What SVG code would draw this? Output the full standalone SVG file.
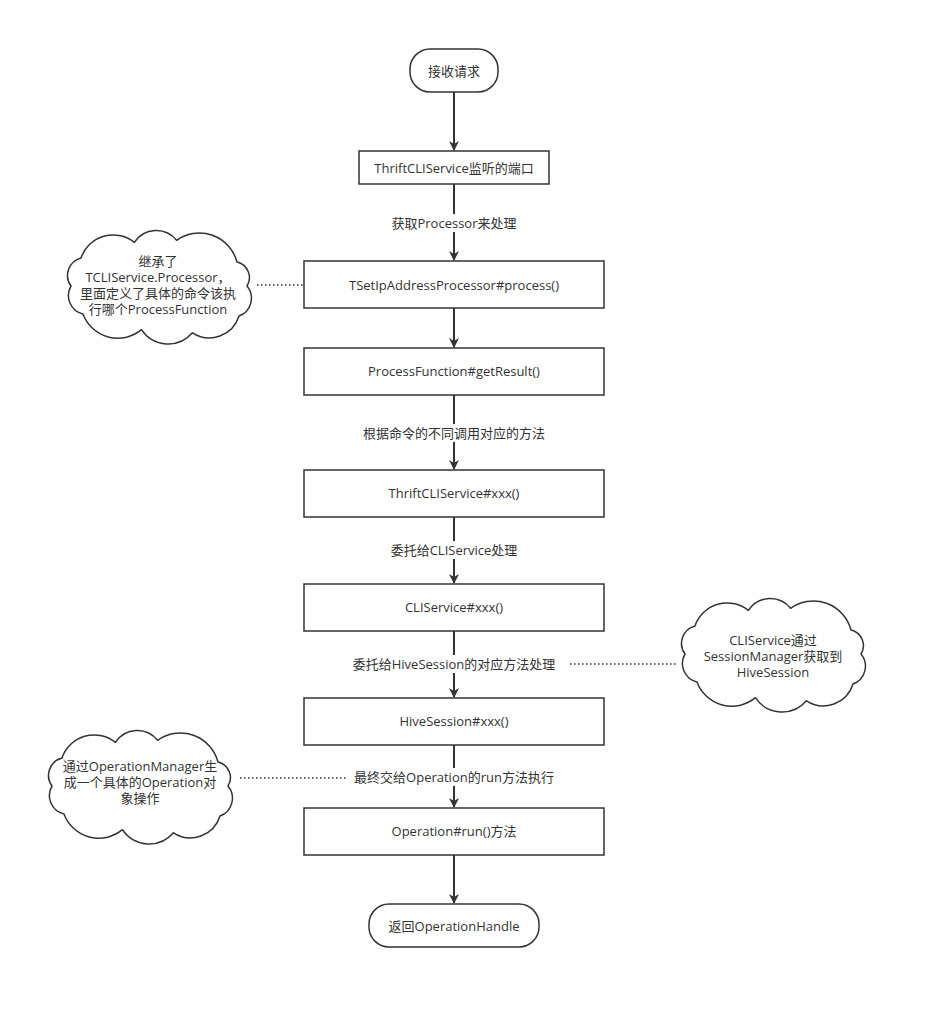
<svg xmlns="http://www.w3.org/2000/svg" width="930" height="1010" viewBox="0 0 930 1010">
<style>
.n{fill:#fff;stroke:#333;stroke-width:1.5}
.c{fill:#fff;stroke:#333;stroke-width:1.5;stroke-linejoin:round}
.t{font-family:"Open Sans","Noto Sans CJK SC",sans-serif;font-size:13px;fill:#333;text-anchor:middle;dominant-baseline:central}
.e{stroke:#333;stroke-width:2;fill:none}
.d{stroke:#333;stroke-width:1.5;fill:none;stroke-dasharray:1.5 2.5}
.lb{fill:#fff}
</style>
<defs>
<marker id="ah" markerWidth="10" markerHeight="12" refX="9" refY="6" orient="auto" markerUnits="userSpaceOnUse">
<path d="M0,1 L10,6 L0,11 L3,6 Z" fill="#333"/>
</marker>
<path id="cloud" d="M6,62 A18,18 0 0 1 16,34 A34,34 0 0 1 69.4,18.4 A26,26 0 0 1 111.6,16.3 A39,39 0 0 1 172,38 A16,16 0 0 1 182,62 A19,19 0 0 1 174,92 A31,31 0 0 1 127.4,108.8 A32,32 0 0 1 76.4,105.7 A37,37 0 0 1 18,90 A19,19 0 0 1 6,62 Z"/>
</defs>
<rect width="930" height="1010" fill="#fff"/>
<g id="connectors">
<line class="e" x1="454" y1="92" x2="454" y2="150" marker-end="url(#ah)"/>
<line class="e" x1="454" y1="184" x2="454" y2="260" marker-end="url(#ah)"/>
<line class="e" x1="454" y1="308" x2="454" y2="347" marker-end="url(#ah)"/>
<line class="e" x1="454" y1="395" x2="454" y2="469" marker-end="url(#ah)"/>
<line class="e" x1="454" y1="517" x2="454" y2="583" marker-end="url(#ah)"/>
<line class="e" x1="454" y1="631" x2="454" y2="697" marker-end="url(#ah)"/>
<line class="e" x1="454" y1="745" x2="454" y2="807" marker-end="url(#ah)"/>
<line class="e" x1="454" y1="855" x2="454" y2="903" marker-end="url(#ah)"/>
<line class="d" x1="257" y1="285" x2="304" y2="285"/>
<line class="d" x1="570" y1="664" x2="677" y2="664"/>
<line class="d" x1="240" y1="778" x2="346" y2="778"/>
<rect class="lb" x="386" y="214" width="136" height="18"/>
<text class="t" x="454" y="223">获取Processor来处理</text>
<rect class="lb" x="360" y="424" width="188" height="18"/>
<text class="t" x="454" y="433">根据命令的不同调用对应的方法</text>
<rect class="lb" x="385" y="541" width="138" height="18"/>
<text class="t" x="454" y="550">委托给CLIService处理</text>
<rect class="lb" x="349" y="655" width="210" height="18"/>
<text class="t" x="454" y="664">委托给HiveSession的对应方法处理</text>
<rect class="lb" x="349" y="768" width="210" height="18"/>
<text class="t" x="454" y="777">最终交给Operation的run方法执行</text>
</g>
<g id="start">
<rect class="n" x="410" y="49" width="88" height="43" rx="20" ry="20"/>
<text class="t" x="454" y="71">接收请求</text>
</g>
<g id="n1">
<rect class="n" x="359" y="151" width="190" height="33"/>
<text class="t" x="454" y="168">ThriftCLIService监听的端口</text>
</g>
<g id="n2">
<rect class="n" x="304" y="261" width="300" height="47"/>
<text class="t" x="454" y="285">TSetIpAddressProcessor#process()</text>
</g>
<g id="n3">
<rect class="n" x="304" y="348" width="300" height="47"/>
<text class="t" x="454" y="371">ProcessFunction#getResult()</text>
</g>
<g id="n4">
<rect class="n" x="304" y="470" width="300" height="47"/>
<text class="t" x="454" y="493">ThriftCLIService#xxx()</text>
</g>
<g id="n5">
<rect class="n" x="304" y="584" width="300" height="47"/>
<text class="t" x="454" y="607">CLIService#xxx()</text>
</g>
<g id="n6">
<rect class="n" x="304" y="698" width="300" height="47"/>
<text class="t" x="454" y="721">HiveSession#xxx()</text>
</g>
<g id="n7">
<rect class="n" x="304" y="808" width="300" height="47"/>
<text class="t" x="454" y="831">Operation#run()方法</text>
</g>
<g id="end">
<rect class="n" x="369" y="904" width="170" height="43" rx="20" ry="20"/>
<text class="t" x="454" y="926">返回OperationHandle</text>
</g>
<g id="cloud1">
<use href="#cloud" class="c" transform="translate(65,224)"/>
<text class="t" x="158" y="261">继承了</text>
<text class="t" x="158" y="277">TCLIService.Processor，</text>
<text class="t" x="158" y="293">里面定义了具体的命令该执</text>
<text class="t" x="158" y="309">行哪个ProcessFunction</text>
</g>
<g id="cloud2">
<use href="#cloud" class="c" transform="translate(679,592)"/>
<text class="t" x="773" y="640">CLIService通过</text>
<text class="t" x="773" y="656">SessionManager获取到</text>
<text class="t" x="773" y="672">HiveSession</text>
</g>
<g id="cloud3">
<use href="#cloud" class="c" transform="translate(46,724)"/>
<text class="t" x="140" y="766">通过OperationManager生</text>
<text class="t" x="140" y="782">成一个具体的Operation对</text>
<text class="t" x="140" y="798">象操作</text>
</g>
</svg>
